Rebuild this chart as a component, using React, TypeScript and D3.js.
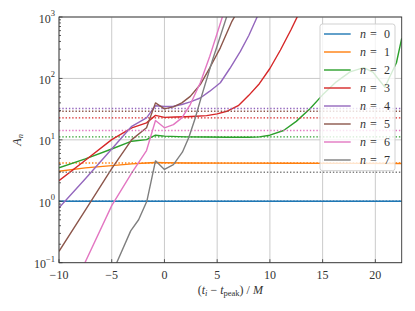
import React from 'react';
import * as d3 from 'd3';

const W = 415;
const H = 311;
const PL = 59, PR = 401.7, PT = 17, PB = 262.7;

const xTicks = [-10, -5, 0, 5, 10, 15, 20];
const yExps = [-1, 0, 1, 2, 3];
const colors = ['#1f77b4', '#ff7f0e', '#2ca02c', '#d62728', '#9467bd', '#8c564b', '#e377c2', '#7f7f7f'];
const asymptotes = [1.0, 4.2, 11.2, 22.8, 32.3, 29.2, 14.2, 2.97];

const n0: [number, number][] = [[-10, 1.0], [0, 1.0], [22.5, 1.0]];
const n1: [number, number][] = [[-10, 3.08], [-7.5, 3.5], [-5, 3.81], [-3.1, 4.06], [-1.7, 4.2], [-0.85, 4.28], [0, 4.25], [2, 4.2], [6, 4.18], [12, 4.16], [18, 4.14], [22.5, 4.13]];
const n2: [number, number][] = [[-10, 3.5], [-7.5, 4.9], [-5, 7.1], [-3.1, 9.5], [-1.7, 10.1], [-0.85, 11.9], [0, 11.5], [2, 11.2], [4, 11.1], [6, 11.0], [8, 11.0], [9, 11.2], [10, 11.9], [11.3, 14.2], [12.5, 20], [13.8, 32], [15, 54], [16.3, 88], [17.6, 128], [18.9, 150], [19.8, 125], [20.9, 72], [22, 180], [22.5, 450]];
const n3: [number, number][] = [[-10, 2.17], [-7.5, 4.65], [-5, 10.1], [-3.1, 15.7], [-1.7, 18.9], [-0.85, 25], [0, 23.2], [1, 23.6], [2, 23.8], [3, 24.2], [4, 24.8], [5, 26.5], [6, 29.5], [7, 36], [8, 53], [9, 82], [10, 145], [11, 290], [12, 620], [12.6, 1010]];
const n4: [number, number][] = [[-10, 0.78], [-7.5, 2.33], [-5, 7.1], [-3.1, 16.6], [-1.7, 22.8], [-0.85, 36], [0, 35], [0.85, 35.2], [1.65, 37.6], [2.45, 41.6], [3.4, 48], [4.3, 62], [5.3, 85], [6.2, 145], [7.2, 275], [8, 500], [8.8, 1010]];
const n5: [number, number][] = [[-10, 0.153], [-7.5, 0.72], [-5, 3.4], [-3.1, 10.1], [-1.7, 15.7], [-0.85, 40], [0, 32], [0.85, 34.5], [1.65, 40], [2.45, 51], [3.4, 79.5], [4.3, 149], [5.3, 315], [6.4, 850], [6.65, 1010]];
const n6: [number, number][] = [[-7.6, 0.095], [-5, 0.85], [-3.1, 2.9], [-1.7, 6.7], [-0.85, 20.7], [0, 15.7], [0.85, 17.7], [1.65, 22.8], [2.45, 37.6], [3.4, 85], [4.3, 230], [5.5, 1010]];
const n7: [number, number][] = [[-4.55, 0.098], [-3.2, 0.33], [-2.45, 0.5], [-1.67, 1.0], [-0.85, 4.55], [0, 3.3], [0.85, 3.96], [1.7, 6.3], [2.3, 10.8], [2.9, 22], [3.5, 50], [4.5, 185], [5.9, 1010]];

const series = [n0, n1, n2, n3, n4, n5, n6, n7];
const FONT = '"Liberation Serif", "DejaVu Serif", serif';

export default function App() {
  const x = d3.scaleLinear().domain([-10, 22.5]).range([PL, PR]);
  const y = d3.scaleLog().domain([0.1, 1000]).range([PB, PT]);
  const line = d3.line<[number, number]>().x(d => x(d[0])).y(d => y(d[1]));

  const minor: number[] = [];
  for (let e = -1; e < 3; e++) for (let k = 2; k <= 9; k++) minor.push(k * Math.pow(10, e));

  const legendRows = series.map((_, i) => 34 + 18 * i);

  return (
    <svg width={W} height={H} style={{ position: 'absolute', left: 0, top: 0, background: '#fff' }} fontFamily={FONT}>
      <defs>
        <clipPath id="plot"><rect x={PL} y={PT} width={PR - PL} height={PB - PT} /></clipPath>
      </defs>
      <rect x={0} y={0} width={W} height={H} fill="#fff" />
      {/* grid */}
      <g stroke="#c4c4c4" strokeWidth={0.9}>
        {xTicks.map(t => <line key={'gx' + t} x1={x(t)} x2={x(t)} y1={PT} y2={PB} />)}
        {yExps.map(e => <line key={'gy' + e} x1={PL} x2={PR} y1={y(Math.pow(10, e))} y2={y(Math.pow(10, e))} />)}
      </g>
      {/* series */}
      <g clipPath="url(#plot)" fill="none">
        {series.map((s, i) => (
          <g key={'s' + i}>
            <path d={line(s) || ''} stroke={colors[i]} strokeWidth={1.4} strokeLinejoin="round" />
            <line x1={PL} x2={PR} y1={y(asymptotes[i])} y2={y(asymptotes[i])} stroke={colors[i]} strokeWidth={1.4} strokeDasharray="1.4 1.9" />
          </g>
        ))}
      </g>
      {/* frame */}
      <rect x={PL} y={PT} width={PR - PL} height={PB - PT} fill="none" stroke="#333" strokeWidth={0.9} />
      {/* ticks */}
      <g stroke="#333" strokeWidth={0.8}>
        {xTicks.map(t => <line key={'tx' + t} x1={x(t)} x2={x(t)} y1={PB} y2={PB - 3.5} />)}
        {yExps.map(e => <line key={'ty' + e} x1={PL} x2={PL + 3.5} y1={y(Math.pow(10, e))} y2={y(Math.pow(10, e))} />)}
        {minor.map(v => <line key={'tm' + v} x1={PL} x2={PL + 2} y1={y(v)} y2={y(v)} />)}
      </g>
      {/* tick labels */}
      <g fontSize={12} fill="#333">
        {xTicks.map(t => (
          <text key={'lx' + t} x={x(t)} y={278.5} textAnchor="middle">{t < 0 ? '\u2212' + Math.abs(t) : String(t)}</text>
        ))}
        {yExps.map(e => (
          <text key={'ly' + e} x={55} y={y(Math.pow(10, e)) + 5.5} textAnchor="end">
            10<tspan fontSize={8.5} dy={-6.5}>{e < 0 ? '\u2212' + Math.abs(e) : String(e)}</tspan>
          </text>
        ))}
      </g>
      {/* axis labels */}
      <text x={(PL + PR) / 2} y={294} textAnchor="middle" fontSize={12} fill="#333">
        (<tspan fontStyle="italic">t</tspan><tspan fontStyle="italic" fontSize={8.5} dy={2}>i</tspan><tspan dy={-2}>{' \u2212 '}</tspan><tspan fontStyle="italic">t</tspan><tspan fontSize={8.5} dy={2}>peak</tspan><tspan dy={-2}>{')  /  '}</tspan><tspan fontStyle="italic">M</tspan>
      </text>
      <text transform={`translate(21,${(PT + PB) / 2}) rotate(-90)`} textAnchor="middle" fontSize={12} fill="#333">
        <tspan fontStyle="italic">A</tspan><tspan fontStyle="italic" fontSize={8.5} dy={2}>n</tspan>
      </text>
      {/* legend */}
      <rect x={320} y={24} width={75} height={146.7} rx={2.5} fill="#fff" fillOpacity={0.8} stroke="#cccccc" strokeWidth={0.9} />
      {legendRows.map((ry, i) => (
        <g key={'lg' + i}>
          <line x1={324} x2={350.7} y1={ry} y2={ry} stroke={colors[i]} strokeWidth={1.4} />
          <text x={360} y={ry + 4.3} fontSize={12} fill="#333">
            <tspan fontStyle="italic">n</tspan>
            <tspan x={370}>=</tspan>
            <tspan x={384}>{String(i)}</tspan>
          </text>
        </g>
      ))}
    </svg>
  );
}
